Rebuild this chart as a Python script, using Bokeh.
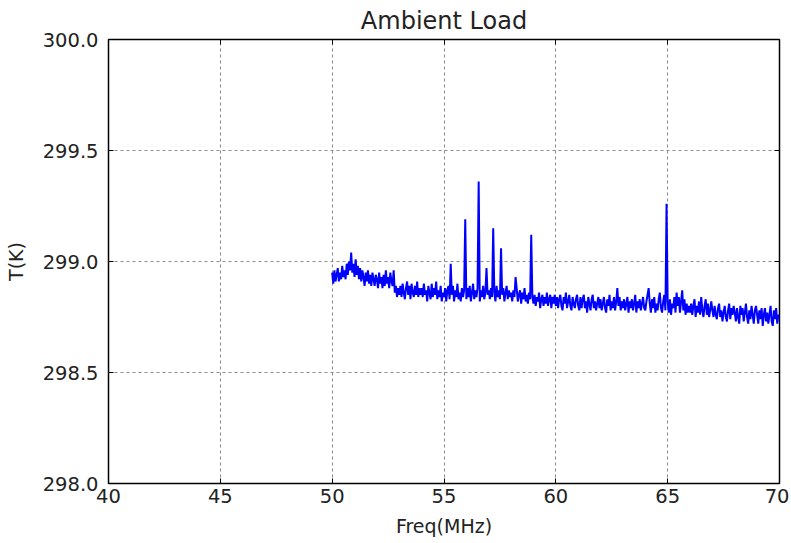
import numpy as np
from bokeh.plotting import figure
from bokeh.models import FixedTicker, PrintfTickFormatter, LinearAxis, Range1d
from bokeh.embed import file_html
from bokeh.resources import INLINE

# ---- data ----
x_ticks = [40, 45, 50, 55, 60, 65, 70]
y_ticks = [298.0, 298.5, 299.0, 299.5, 300.0]

freq_start = 50.0
freq_step = 0.05

temps_50_55 = [
    # 50.00 - 50.95
    298.95, 298.90, 298.96, 298.91, 298.94, 298.97, 298.91, 298.95, 298.92, 298.98,
    298.93, 298.96, 298.92, 298.99, 298.94, 299.00, 298.96, 299.04, 298.95, 298.99,
    # 51
    298.93, 299.01, 298.94, 298.98, 298.92, 298.97, 298.91, 298.96, 298.93, 298.89,
    298.95, 298.91, 298.96, 298.90, 298.94, 298.89, 298.95, 298.92, 298.89, 298.94,
    # 52
    298.92, 298.88, 298.95, 298.90, 298.93, 298.88, 298.94, 298.89, 298.96, 298.90,
    298.93, 298.88, 298.95, 298.91, 298.89, 298.96, 298.86, 298.89, 298.84, 298.88,
    # 53
    298.85, 298.89, 298.84, 298.90, 298.86, 298.83, 298.88, 298.91, 298.85, 298.89,
    298.83, 298.90, 298.86, 298.84, 298.89, 298.85, 298.91, 298.84, 298.88, 298.85,
    # 54
    298.88, 298.84, 298.90, 298.85, 298.87, 298.82, 298.89, 298.86, 298.83, 298.90,
    298.84, 298.88, 298.85, 298.91, 298.83, 298.87, 298.84, 298.89, 298.82, 298.86,
]
temps_55_60 = [
    # 55
    298.84, 298.88, 298.82, 298.87, 298.89, 298.83, 298.99, 298.85, 298.89, 298.82,
    298.87, 298.84, 298.90, 298.83, 298.86, 298.82, 298.88, 298.84, 298.87, 299.19,
    # 56
    298.83, 298.88, 298.84, 298.89, 298.82, 298.86, 298.90, 298.83, 298.87, 298.84,
    298.88, 299.36, 298.82, 298.87, 298.84, 298.89, 298.83, 298.86, 298.97, 298.85,
    # 57
    298.87, 298.83, 298.88, 298.84, 299.15, 298.86, 298.82, 298.89, 298.84, 298.87,
    298.83, 299.06, 298.85, 298.88, 298.82, 298.86, 298.89, 298.83, 298.87, 298.84,
    # 58
    298.86, 298.82, 298.87, 298.84, 298.93, 298.88, 298.82, 298.85, 298.87, 298.81,
    298.86, 298.83, 298.88, 298.82, 298.85, 298.81, 298.86, 298.83, 299.12, 298.84,
    # 59
    298.81, 298.85, 298.80, 298.84, 298.82, 298.86, 298.79, 298.83, 298.85, 298.80,
    298.84, 298.81, 298.86, 298.80, 298.83, 298.85, 298.79, 298.84, 298.81, 298.85,
]
temps_60_70 = [
    # 60
    298.80, 298.84, 298.79, 298.83, 298.85, 298.80, 298.78, 298.84, 298.81, 298.86,
    298.79, 298.82, 298.85, 298.80, 298.78, 298.84, 298.81, 298.79, 298.83, 298.85,
    # 61
    298.80, 298.78, 298.84, 298.79, 298.83, 298.85, 298.79, 298.82, 298.77, 298.84,
    298.81, 298.78, 298.83, 298.85, 298.79, 298.82, 298.78, 298.81, 298.84, 298.79,
    # 62
    298.83, 298.78, 298.81, 298.84, 298.79, 298.77, 298.83, 298.80, 298.85, 298.78,
    298.82, 298.79, 298.84, 298.78, 298.82, 298.88, 298.80, 298.84, 298.78, 298.82,
    # 63
    298.79, 298.83, 298.78, 298.81, 298.84, 298.77, 298.82, 298.79, 298.83, 298.78,
    298.81, 298.85, 298.77, 298.82, 298.79, 298.83, 298.78, 298.81, 298.84, 298.79,
    # 64
    298.78, 298.82, 298.85, 298.88, 298.81, 298.77, 298.83, 298.79, 298.84, 298.77,
    298.81, 298.78, 298.83, 298.86, 298.79, 298.77, 298.82, 298.85, 298.78, 299.26,
    # 65
    298.82, 298.77, 298.83, 298.76, 298.81, 298.79, 298.84, 298.77, 298.86, 298.80,
    298.84, 298.77, 298.82, 298.87, 298.78, 298.83, 298.76, 298.81, 298.77, 298.80,
    # 66
    298.77, 298.81, 298.76, 298.80, 298.83, 298.75, 298.80, 298.77, 298.82, 298.76,
    298.84, 298.78, 298.75, 298.80, 298.83, 298.76, 298.81, 298.75, 298.78, 298.82,
    # 67
    298.78, 298.75, 298.80, 298.76, 298.74, 298.79, 298.81, 298.75, 298.78, 298.73,
    298.77, 298.80, 298.75, 298.73, 298.78, 298.81, 298.74, 298.79, 298.76, 298.80,
    # 68
    298.77, 298.73, 298.79, 298.75, 298.72, 298.80, 298.76, 298.79, 298.73, 298.77,
    298.81, 298.75, 298.72, 298.78, 298.74, 298.80, 298.76, 298.72, 298.78, 298.80,
    # 69
    298.76, 298.72, 298.78, 298.74, 298.79, 298.71, 298.76, 298.79, 298.73, 298.77,
    298.72, 298.76, 298.80, 298.73, 298.71, 298.78, 298.74, 298.79, 298.72, 298.76,
    # 70.00
    298.75,
]

temps = temps_50_55 + temps_55_60 + temps_60_70
freqs = np.round(freq_start + freq_step * np.arange(len(temps)), 2)

FONT = "DejaVu Sans"
TXT = "#222222"

p = figure(width=789, height=540, output_backend="svg", toolbar_location=None,
           x_range=Range1d(40, 70), y_range=Range1d(298.0, 300.0),
           title="Ambient Load",
           min_border_left=108, min_border_right=10, min_border_top=38, min_border_bottom=57)

p.line(freqs, temps, line_color="#0000ff", line_width=2)

p.title.align = "center"
p.title.text_font = FONT
p.title.text_font_size = "24px"
p.title.text_font_style = "normal"
p.title.text_color = TXT
p.title.standoff = 9

p.outline_line_color = "black"
p.outline_line_width = 1.5
p.background_fill_color = "white"
p.border_fill_color = "white"

for ax in (p.xaxis[0], p.yaxis[0]):
    ax.axis_line_color = None
    ax.major_tick_in = 5
    ax.major_tick_out = 0
    ax.major_tick_line_color = "black"
    ax.minor_tick_line_color = None
    ax.major_label_text_font = FONT
    ax.major_label_text_font_size = "19.5px"
    ax.major_label_text_color = TXT
    ax.axis_label_text_font = FONT
    ax.axis_label_text_font_size = "19px"
    ax.axis_label_text_font_style = "normal"
    ax.axis_label_text_color = TXT

p.xaxis[0].ticker = FixedTicker(ticks=x_ticks)
p.yaxis[0].ticker = FixedTicker(ticks=y_ticks)
p.yaxis[0].formatter = PrintfTickFormatter(format="%.1f")
p.xaxis[0].axis_label = "Freq(MHz)"
p.yaxis[0].axis_label = "T(K)"
p.xaxis[0].major_label_standoff = 5
p.xaxis[0].axis_label_standoff = 9
p.yaxis[0].major_label_standoff = 10
p.yaxis[0].axis_label_standoff = 13

# mirrored tick marks on top and right (labels not drawn)
top = LinearAxis(ticker=FixedTicker(ticks=x_ticks))
right = LinearAxis(ticker=FixedTicker(ticks=y_ticks))
for ax in (top, right):
    ax.axis_line_color = None
    ax.major_tick_in = 5
    ax.major_tick_out = 0
    ax.major_tick_line_color = "black"
    ax.minor_tick_line_color = None
    ax.major_label_text_font_size = "0px"
    ax.major_label_text_color = None
    ax.major_label_standoff = 0
p.add_layout(top, "above")
p.add_layout(right, "right")

for g in (p.xgrid[0], p.ygrid[0]):
    g.grid_line_color = "#8c8c8c"
    g.grid_line_dash = "3 3"
    g.grid_line_width = 1
p.xgrid[0].ticker = FixedTicker(ticks=x_ticks)
p.ygrid[0].ticker = FixedTicker(ticks=y_ticks)

open("out.html", "w").write(file_html(p, INLINE))
